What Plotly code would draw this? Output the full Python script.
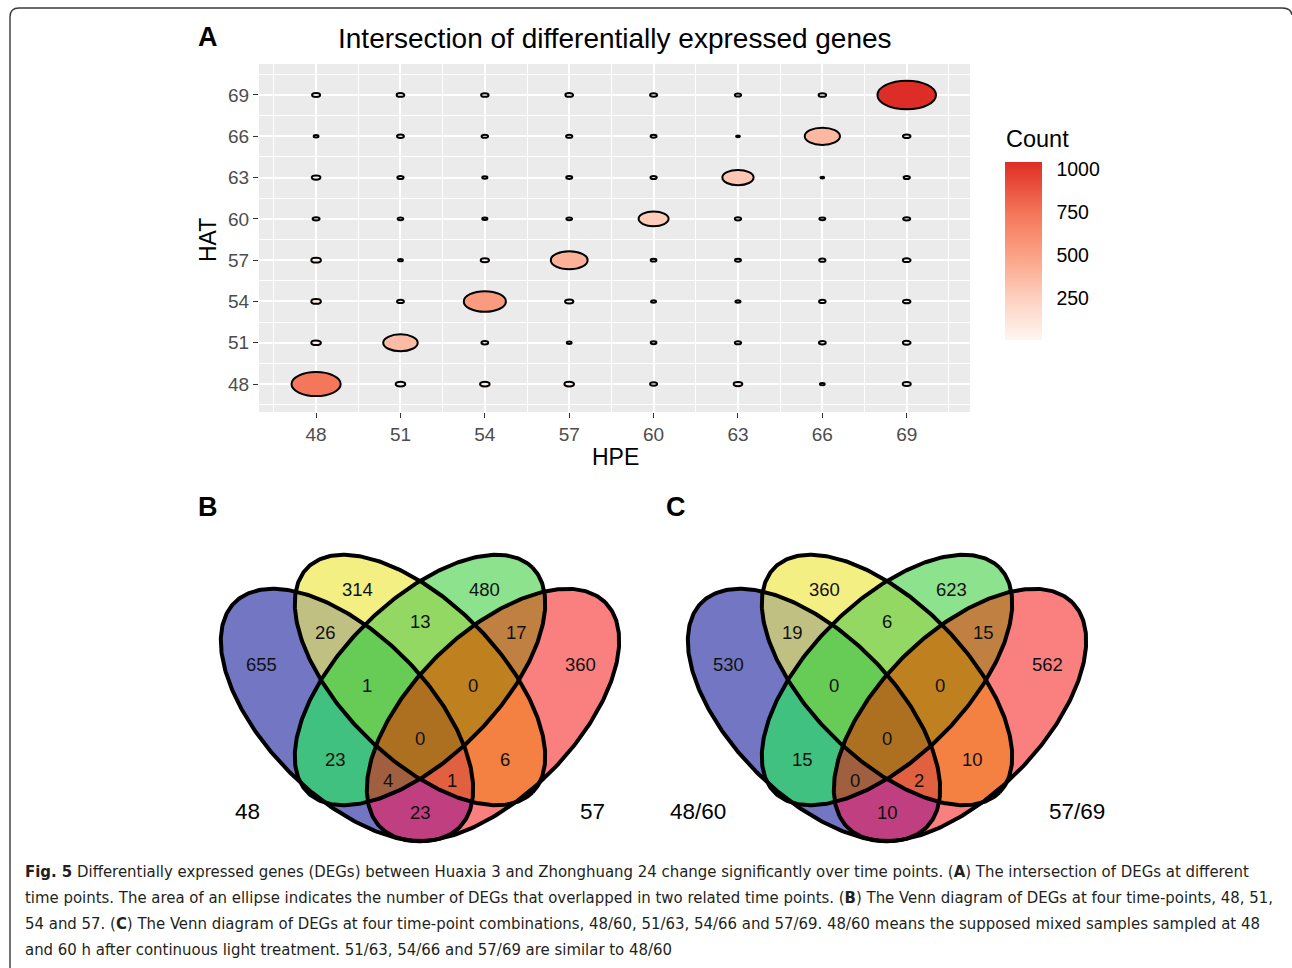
import numpy as np
import plotly.graph_objects as go
from plotly.colors import sample_colorscale

W, H = 1292, 968
FONT = "Liberation Sans, Arial, Helvetica, sans-serif"

# ---------------- Panel A data ----------------
hpe = [48, 51, 54, 57, 60, 63, 66, 69]
hat = [48, 51, 54, 57, 60, 63, 66, 69]
# rows = HAT, cols = HPE (same order as above)
counts = [
    [733, 28, 28, 28, 15, 23, 7, 20],
    [28, 361, 14, 7, 10, 12, 14, 18],
    [28, 14, 538, 21, 8, 8, 13, 17],
    [28, 7, 21, 411, 10, 11, 12, 18],
    [15, 10, 8, 10, 272, 12, 11, 15],
    [23, 12, 8, 11, 12, 296, 4, 12],
    [7, 14, 13, 12, 11, 4, 377, 17],
    [20, 18, 17, 18, 15, 12, 17, 1040],
]
colorbar_ticks = [250, 500, 750, 1000]

# ---------------- Venn data ----------------
region_keys = ["48", "51", "54", "57", "48&51", "51&54", "54&57", "48&54", "51&57",
               "48&57", "48&51&54", "51&54&57", "48&51&54&57", "48&54&57", "48&51&57"]
venn_b_counts = [655, 314, 480, 360, 26, 13, 17, 23, 6, 23, 1, 0, 0, 4, 1]
venn_c_counts = [530, 360, 623, 562, 19, 6, 15, 15, 10, 10, 0, 0, 0, 0, 2]
venn_b_sets = ["48", "51", "54", "57"]
venn_c_sets = ["48/60", "51/63", "54/66", "57/69"]

# ---------------- styles / layout geometry ----------------
count_colorscale = [[0.0, "#FFF5F0"], [0.22, "#FDD3C3"], [0.47, "#FBA386"],
                    [0.71, "#F5765A"], [0.96, "#E2382B"], [1.0, "#DE2D26"]]
ELL_K = 0.0323  # radius (axis units) per sqrt(count)

# venn ellipse geometry in pixel-like axis units: cx, cy, a, b, orientation
venn_geom = [(347, 715, 159, 81, 1), (420, 680, 159, 78, 1),
             (420, 680, 159, 78, -1), (493, 715, 159, 81, -1)]
region_colors = {1: "#FA8080", 2: "#8DE28D", 3: "#C08041", 4: "#F3EF83", 5: "#F48041",
                 6: "#93D862", 7: "#BF8020", 8: "#7376C2", 9: "#C03F80", 10: "#41C180",
                 11: "#A0603F", 12: "#C1C083", 13: "#E06040", 14: "#66CC55", 15: "#AD7021"}
label_pos = {"48": (261, 664), "51": (357, 589), "54": (484, 589), "57": (580, 664),
             "48&51": (325, 632), "51&54": (420, 621), "54&57": (516, 632),
             "48&54": (335, 759), "51&57": (505, 759), "48&57": (420, 812),
             "48&51&54": (367, 685), "51&54&57": (473, 685), "48&51&54&57": (420, 738),
             "48&54&57": (388, 780), "48&51&57": (452, 780)}
set_label_pos_b = [(247, 811), (334, 528), (505, 528), (592, 811)]
set_label_pos_c = [(231, 811), (336, 528), (506, 528), (610, 811)]
VX0, VX1, VY0, VY1 = 212, 630, 546, 850
C_SHIFT = 467

fig = go.Figure()
shapes = []
annotations = []

# ---------------- Panel A ----------------
allc = [c for row in counts for c in row]
cmin, cmax = min(allc), max(allc)
for i, yv in enumerate(hat):
    for j, xv in enumerate(hpe):
        c = counts[i][j]
        r = ELL_K * np.sqrt(c)
        col = sample_colorscale(count_colorscale, [(c - cmin) / (cmax - cmin)])[0]
        shapes.append(dict(type="circle", xref="x", yref="y", x0=xv - r, x1=xv + r,
                           y0=yv - r, y1=yv + r, fillcolor=col,
                           line=dict(color="black", width=2.0), layer="above"))

gx = [x for x in hpe for _ in hat]
gy = [y for _ in hpe for y in hat]
gc = [counts[hat.index(y)][hpe.index(x)] for x, y in zip(gx, gy)]
fig.add_trace(go.Scatter(
    x=gx, y=gy, mode="markers", xaxis="x", yaxis="y", hoverinfo="skip", showlegend=False,
    marker=dict(size=1, opacity=0, color=gc, cmin=cmin, cmax=cmax,
                colorscale=count_colorscale, showscale=True,
                colorbar=dict(x=1005 / W, xanchor="left", y=1 - 251 / H, yanchor="middle",
                              thickness=37, thicknessmode="pixels", len=178, lenmode="pixels",
                              xpad=0, ypad=0, outlinewidth=0, tickmode="array",
                              tickvals=colorbar_ticks, ticks="outside", ticklen=11,
                              tickcolor="rgba(0,0,0,0)",
                              tickfont=dict(size=19.5, color="black", family=FONT)))))

# gray panel background
shapes.append(dict(type="rect", xref="x domain", yref="y domain", x0=0, x1=1, y0=0, y1=1,
                   fillcolor="#EBEBEB", line=dict(width=0), layer="below"))
# white ticks on colorbar
for v in colorbar_ticks:
    py = 162 + (cmax - v) / (cmax - cmin) * 178
    for xa, xb in ((1005, 1012), (1035, 1042)):
        shapes.append(dict(type="line", xref="paper", yref="paper", x0=xa / W, x1=xb / W,
                           y0=1 - py / H, y1=1 - py / H, line=dict(color="white", width=1.2)))

# ---------------- Venn diagrams ----------------
xs = np.arange(VX0, VX1 + 1, 1.0)
ys = np.arange(VY0, VY1 + 1, 1.0)
XX, YY = np.meshgrid(xs, ys)
code = np.zeros_like(XX)
s2 = np.sqrt(2.0)
for bit, (cx, cy, a, b, o) in zip([8, 4, 2, 1], venn_geom):
    dx, dy = XX - cx, YY - cy
    u = (dx + o * dy) / s2
    v = (dx - o * dy) / s2
    inside = (u / a) ** 2 + (v / b) ** 2 <= 1
    code += bit * inside
z = np.where(code > 0, code, np.nan)
vcs = []
for k in range(1, 16):
    vcs += [[(k - 1) / 15, region_colors[k]], [k / 15, region_colors[k]]]

t = np.linspace(0, 2 * np.pi, 361)
for ax_x, ax_y in (("x2", "y2"), ("x3", "y3")):
    fig.add_trace(go.Heatmap(x=xs, y=ys, z=z, zmin=0.5, zmax=15.5, colorscale=vcs,
                             showscale=False, hoverinfo="skip", xaxis=ax_x, yaxis=ax_y))
    for (cx, cy, a, b, o) in venn_geom:
        ex = cx + (a * np.cos(t) + b * np.sin(t)) / s2
        ey = cy + (o * a * np.cos(t) - o * b * np.sin(t)) / s2
        fig.add_trace(go.Scatter(x=ex, y=ey, mode="lines", line=dict(color="black", width=4),
                                 hoverinfo="skip", showlegend=False, xaxis=ax_x, yaxis=ax_y))

for (axx, axy, cnts, names, spos) in (("x2", "y2", venn_b_counts, venn_b_sets, set_label_pos_b),
                                      ("x3", "y3", venn_c_counts, venn_c_sets, set_label_pos_c)):
    for key, n in zip(region_keys, cnts):
        px, py = label_pos[key]
        annotations.append(dict(x=px, y=py, xref=axx, yref=axy, text=str(n), showarrow=False,
                                font=dict(size=18.5, color="#111111", family=FONT)))
    for name, (px, py) in zip(names, spos):
        annotations.append(dict(x=px, y=py, xref=axx, yref=axy, text=name, showarrow=False,
                                font=dict(size=22.5, color="black", family=FONT)))

# ---------------- texts ----------------
def ann(x, y, text, size, color="black", bold=False, xanchor="center", angle=0, family=FONT):
    annotations.append(dict(x=x / W, y=1 - y / H, xref="paper", yref="paper",
                            text=f"<b>{text}</b>" if bold else text, showarrow=False,
                            xanchor=xanchor, yanchor="middle", textangle=angle,
                            font=dict(size=size, color=color, family=family)))

ann(615, 38, "Intersection of differentially expressed genes", 28)
ann(208, 37, "A", 27, bold=True)
ann(208, 507, "B", 27, bold=True)
ann(676, 507, "C", 27, bold=True)
ann(615, 457, "HPE", 23)
ann(208, 240, "HAT", 23, angle=-90)
ann(1004, 139, "Count", 23.5, xanchor="left")

caption_lines = [
    "<b>Fig. 5</b> Differentially expressed genes (DEGs) between Huaxia 3 and Zhonghuang 24 change significantly over time points. (<b>A</b>) The intersection of DEGs at different",
    "time points. The area of an ellipse indicates the number of DEGs that overlapped in two related time points. (<b>B</b>) The Venn diagram of DEGs at four time-points, 48, 51,",
    "54 and 57. (<b>C</b>) The Venn diagram of DEGs at four time-point combinations, 48/60, 51/63, 54/66 and 57/69. 48/60 means the supposed mixed samples sampled at 48",
    "and 60 h after continuous light treatment. 51/63, 54/66 and 57/69 are similar to 48/60",
]
CAP_FONT = "DejaVu Sans Condensed, Liberation Sans"
for k, line in enumerate(caption_lines):
    ann(23, 871 + 26 * k, line, 16.6, color="#231F20", xanchor="left", family=CAP_FONT)

# outer rounded border
def P(x, y):
    return f"{x / W:.5f},{1 - y / H:.5f}"
shapes.append(dict(type="path", xref="paper", yref="paper",
                   path=f"M{P(10, 968)} L{P(10, 17)} Q{P(10, 8)} {P(19, 8)} L{P(1282, 8)} Q{P(1291, 8)} {P(1292, 15)}",
                   line=dict(color="#3a3a3a", width=1.4)))

axis_common = dict(tickmode="array", ticks="outside", ticklen=5, tickwidth=1.1, tickcolor="#333333",
                   tickfont=dict(size=19, color="#4D4D4D", family=FONT), showgrid=True,
                   gridcolor="white", gridwidth=1.8, zeroline=False, showline=False,
                   fixedrange=True, range=[45.97, 71.25],
                   minor=dict(tickmode="array", tickvals=[46.5 + 3 * i for i in range(9)],
                              showgrid=True, gridcolor="white", gridwidth=0.9, ticks=""))
venn_x = dict(visible=False, fixedrange=True, range=[VX0, VX1])
venn_y = dict(visible=False, fixedrange=True, range=[VY1, VY0])

fig.update_layout(
    width=W, height=H, margin=dict(l=0, r=0, t=0, b=0),
    paper_bgcolor="white", plot_bgcolor="white", showlegend=False,
    xaxis=dict(domain=[259 / W, 970 / W], anchor="y", tickvals=hpe, **axis_common),
    yaxis=dict(domain=[1 - 412 / H, 1 - 64 / H], anchor="x", tickvals=hat, **axis_common),
    xaxis2=dict(domain=[VX0 / W, VX1 / W], anchor="y2", **venn_x),
    yaxis2=dict(domain=[1 - VY1 / H, 1 - VY0 / H], anchor="x2", **venn_y),
    xaxis3=dict(domain=[(VX0 + C_SHIFT) / W, (VX1 + C_SHIFT) / W], anchor="y3", **venn_x),
    yaxis3=dict(domain=[1 - VY1 / H, 1 - VY0 / H], anchor="x3", **venn_y),
    shapes=shapes, annotations=annotations,
)
fig.write_html("out.html", config={"displayModeBar": False})
